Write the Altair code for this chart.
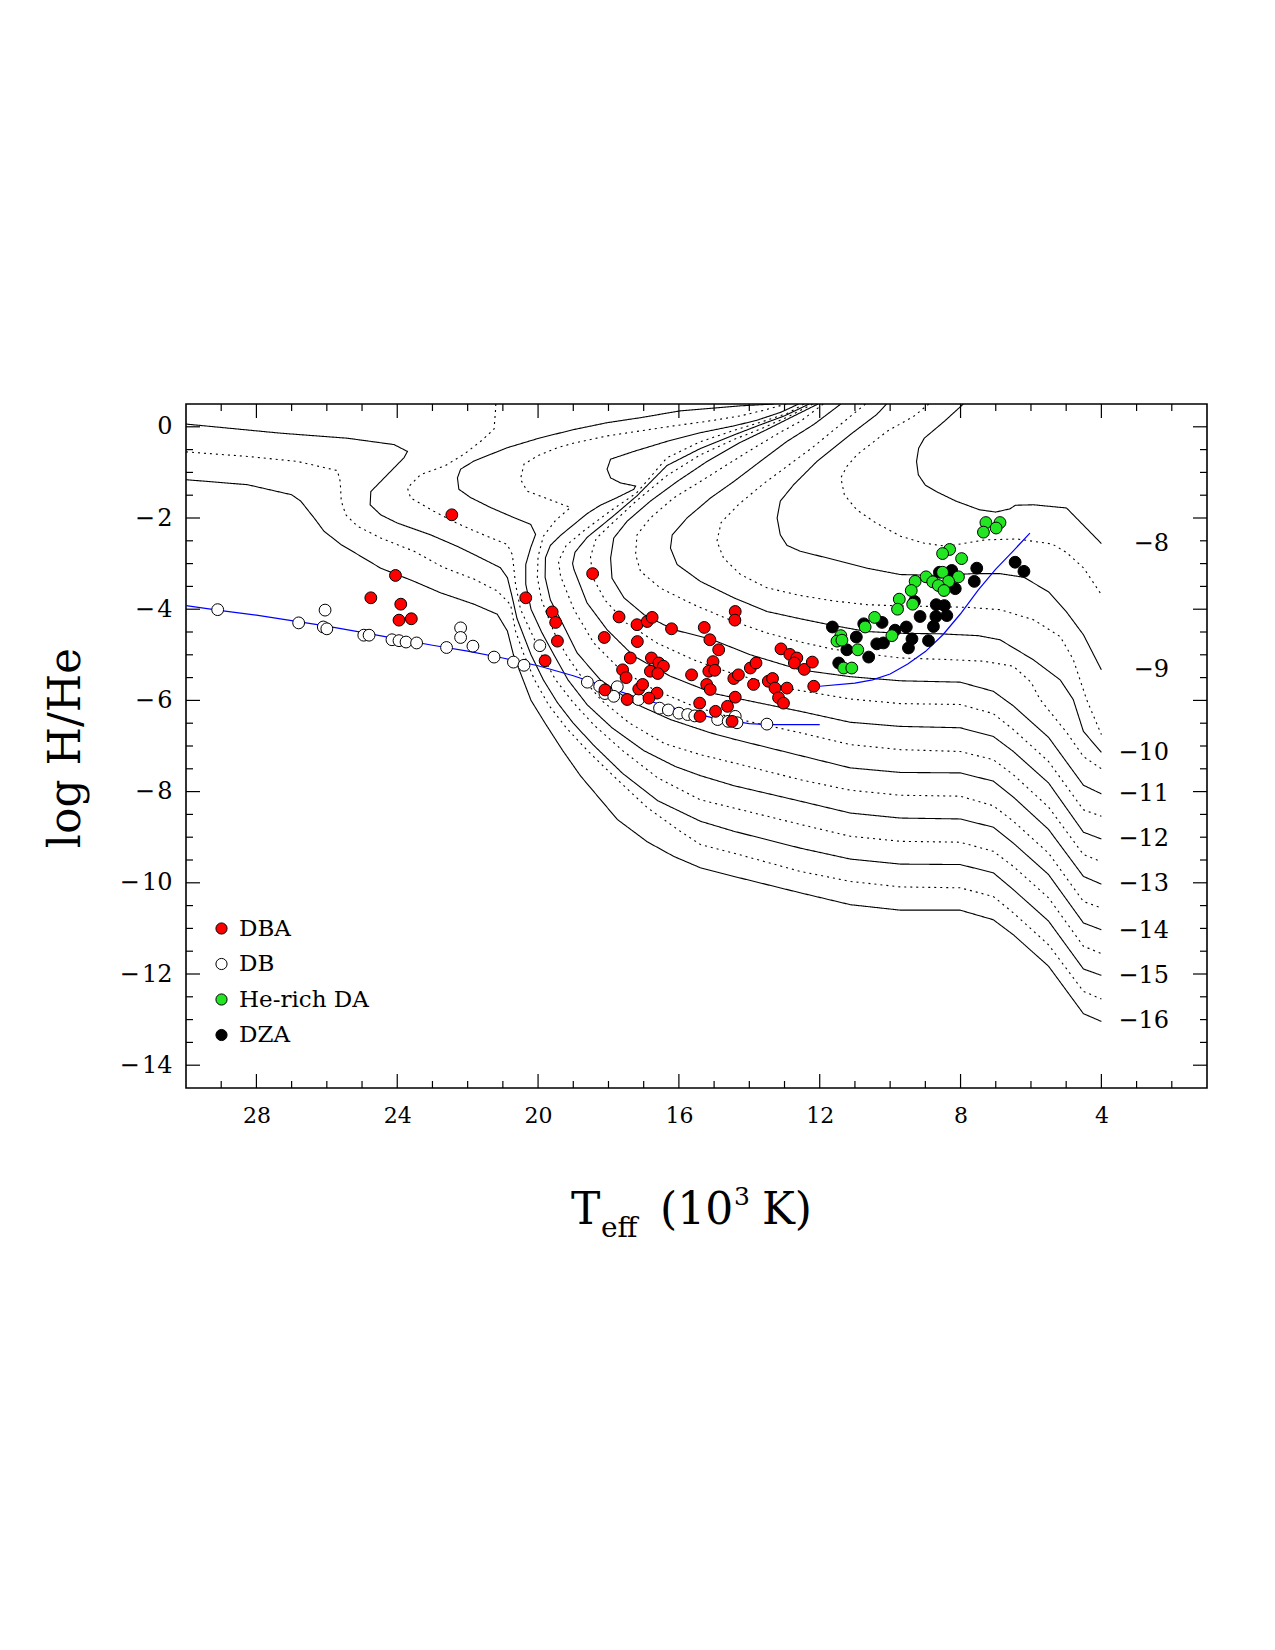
import altair as alt
import pandas as pd

FONT = "DejaVu Serif"
W, H = 1021, 684

# ---------------- axes ----------------
x_major = [28, 24, 20, 16, 12, 8, 4]
x_minor = [29, 27, 26, 25, 23, 22, 21, 19, 18, 17, 15, 14, 13, 11, 10, 9, 7, 6, 5, 3, 2]
y_major = [0, -2, -4, -6, -8, -10, -12, -14]
y_minor = [-0.5, -1, -1.5, -2.5, -3, -3.5, -4.5, -5, -5.5, -6.5, -7, -7.5,
           -8.5, -9, -9.5, -10.5, -11, -11.5, -12.5, -13, -13.5]

# ---------------- observed stars (Teff/1000, log H/He) ----------------
db = [(29.1, -4.01), (26.8, -4.30), (26.05, -4.02), (26.1, -4.39), (26.0, -4.43),
      (24.95, -4.57), (24.8, -4.57), (24.15, -4.67), (23.95, -4.69), (23.75, -4.72),
      (23.45, -4.74), (22.6, -4.84), (22.2, -4.41), (22.2, -4.62), (21.85, -4.81),
      (21.25, -5.05), (20.7, -5.16), (20.4, -5.23), (19.95, -4.80), (18.6, -5.60),
      (18.25, -5.69), (17.75, -5.70), (18.1, -5.85), (17.85, -5.91), (17.15, -5.98),
      (16.55, -6.17), (16.3, -6.21), (16.0, -6.28), (15.75, -6.31), (15.55, -6.34),
      (14.9, -6.42), (14.6, -6.46), (14.4, -6.35), (14.35, -6.49), (13.5, -6.52)]

dba = [(22.45, -1.93), (24.05, -3.26), (24.75, -3.75), (23.9, -3.89), (23.95, -4.24),
       (23.6, -4.21), (20.35, -3.75), (19.6, -4.06), (19.5, -4.29), (19.45, -4.70),
       (19.8, -5.13), (18.45, -3.22), (17.7, -4.17), (18.12, -4.62), (17.6, -5.33),
       (17.5, -5.50), (18.1, -5.77), (17.47, -5.98), (17.18, -4.71), (17.19, -4.34),
       (16.90, -4.27), (16.76, -4.18), (16.21, -4.43), (17.38, -5.07), (16.78, -5.07),
       (16.81, -5.36), (16.57, -5.18), (16.44, -5.25), (16.60, -5.41), (17.14, -5.75),
       (17.03, -5.65), (16.62, -5.84), (16.85, -5.95), (15.28, -4.40), (15.12, -4.67),
       (14.87, -4.89), (15.03, -5.15), (15.15, -5.36), (14.98, -5.34), (15.64, -5.44),
       (15.21, -5.65), (15.11, -5.76), (15.41, -6.06), (15.40, -6.35), (14.96, -6.24),
       (14.62, -6.13), (14.40, -5.93), (14.49, -6.46), (14.40, -4.05), (14.41, -4.24),
       (14.44, -5.52), (14.31, -5.44), (13.97, -5.29), (13.81, -5.18), (13.88, -5.65),
       (13.46, -5.58), (13.34, -5.52), (13.27, -5.73), (13.17, -5.94), (13.03, -6.06),
       (12.93, -5.73), (13.10, -4.87), (12.85, -4.99), (12.65, -5.07), (12.72, -5.18),
       (12.44, -5.32), (12.21, -5.16), (12.17, -5.69)]

dza = [(6.45, -2.97), (6.20, -3.17), (7.54, -3.10), (7.61, -3.39), (8.25, -3.15),
       (8.15, -3.55), (8.60, -3.19), (8.69, -3.90), (8.46, -3.92), (9.31, -3.83),
       (8.70, -4.16), (8.39, -4.14), (9.15, -4.16), (8.77, -4.38), (10.23, -4.29),
       (9.54, -4.39), (9.86, -4.46), (8.91, -4.69), (9.38, -4.65), (9.48, -4.85),
       (10.19, -4.74), (10.38, -4.76), (10.96, -4.61), (11.64, -4.39), (11.23, -4.89),
       (10.61, -5.05), (11.46, -5.18), (10.75, -4.32)]

he_da = [(7.28, -2.10), (6.88, -2.10), (7.35, -2.31), (6.99, -2.22), (8.31, -2.69),
         (8.51, -2.78), (7.97, -2.89), (8.51, -3.19), (8.06, -3.29), (8.34, -3.39),
         (8.98, -3.29), (8.79, -3.40), (9.29, -3.39), (8.63, -3.48), (8.47, -3.59),
         (9.40, -3.59), (9.74, -3.78), (9.79, -4.00), (9.36, -3.89), (10.44, -4.18),
         (10.71, -4.39), (9.95, -4.58), (11.40, -4.58), (11.51, -4.70), (11.37, -4.68),
         (10.92, -4.89), (11.32, -5.29), (11.09, -5.29)]

# ---------------- blue sequences ----------------
blue_db = [(30, -3.92), (29, -4.03), (28, -4.13), (27, -4.25), (26, -4.37), (25, -4.51),
           (24, -4.65), (23, -4.79), (22, -4.92), (21, -5.07), (20, -5.24), (19, -5.46),
           (18, -5.72), (17, -5.98), (16, -6.20), (15, -6.39), (14, -6.51), (13.5, -6.53),
           (12, -6.53)]
blue_da = [(12.0, -5.69), (11.0, -5.62), (10.5, -5.55), (10.0, -5.42), (9.5, -5.20),
           (9.0, -4.93), (8.5, -4.56), (8.0, -4.10), (7.5, -3.58), (7.0, -3.12),
           (6.5, -2.72), (6.03, -2.33)]

# ---------------- model curves (log M_H / M) ----------------
c_m8 = [(7.92, 0.5), (8.46, 0.12), (9.03, -0.25), (9.19, -0.47), (9.25, -0.76), (9.2, -1.05),
        (9.0, -1.28), (8.69, -1.42), (8.13, -1.63), (7.46, -1.82), (7.0, -1.87), (6.6, -1.80),
        (6.44, -1.72), (5.93, -1.71), (4.99, -1.78), (4.0, -2.56)]
c_m85 = [(8.9, 0.5), (9.33, 0.23), (10.09, -0.10), (10.5, -0.35), (10.94, -0.61), (11.23, -0.87),
         (11.4, -1.12), (11.3, -1.49), (10.95, -1.82), (10.4, -2.11), (9.7, -2.40), (9.05, -2.55),
         (8.4, -2.62), (7.3, -2.48), (6.4, -2.46), (5.4, -2.57), (5.0, -2.75), (4.5, -3.10),
         (4.0, -3.68)]
c_m9 = [(10.1, 0.5), (10.38, 0.27), (11.13, -0.17), (12.08, -0.76), (12.74, -1.27), (13.12, -1.63),
        (13.21, -2.0), (13.12, -2.37), (12.93, -2.6), (12.55, -2.73), (11.61, -2.91), (10.66, -3.10),
        (9.71, -3.24), (8.58, -3.26), (7.63, -3.22), (6.88, -3.22), (6.2, -3.3), (5.5, -3.62),
        (5.0, -4.05), (4.51, -4.56), (4.0, -5.33)]
c_m95 = [(10.7, 0.5), (11.3, 0.12), (12.2, -0.45), (12.9, -0.85), (13.6, -1.25), (14.3, -1.7),
         (14.8, -2.1), (14.92, -2.51), (14.73, -2.88), (14.25, -3.24), (13.5, -3.53), (12.55, -3.70),
         (11.6, -3.82), (10.66, -3.90), (9.7, -3.93), (8.77, -3.94), (7.8, -3.96), (6.88, -4.01),
         (5.93, -4.23), (5.17, -4.60), (4.8, -5.1), (4.42, -5.98), (4.0, -6.75)]
c_m10 = [(11.4, 0.5), (12.17, 0.05), (12.93, -0.32), (13.69, -0.76), (14.44, -1.20), (15.10, -1.56),
         (15.77, -2.0), (16.19, -2.37), (16.24, -2.66), (16.05, -3.02), (15.39, -3.39), (14.44, -3.75),
         (13.5, -4.05), (12.55, -4.21), (11.6, -4.36), (10.66, -4.49), (9.6, -4.53), (8.58, -4.54),
         (7.5, -4.58), (6.88, -4.67), (5.93, -5.11), (5.17, -5.55), (4.80, -5.98), (4.51, -6.68),
         (4.0, -7.14)]
c_m105 = [(11.9, 0.5), (12.55, 0.12), (13.12, -0.12), (13.88, -0.47), (14.63, -0.83), (15.39, -1.20),
          (16.15, -1.56), (16.81, -2.0), (17.19, -2.37), (17.23, -2.80), (17.09, -3.17), (16.52, -3.54),
          (15.58, -3.90), (14.44, -4.27), (13.5, -4.52), (12.55, -4.72), (11.6, -4.88), (10.66, -4.98),
          (9.71, -5.07), (8.5, -5.10), (7.35, -5.14), (6.5, -5.25), (6.0, -5.6), (5.74, -5.98),
          (4.98, -6.71), (4.51, -7.23), (4.0, -7.50)]
c_m11 = [(12.05, 0.5), (12.83, 0.2), (13.5, -0.06), (14.25, -0.34), (15.2, -0.76), (16.05, -1.20),
         (16.81, -1.63), (17.47, -2.07), (17.85, -2.44), (17.94, -2.88), (17.90, -3.32), (17.56, -3.75),
         (16.99, -4.12), (16.15, -4.45), (15.11, -4.65), (13.97, -5.0), (12.55, -5.33), (11.13, -5.48),
         (9.71, -5.57), (8.01, -5.60), (7.07, -5.80), (6.5, -6.12), (5.5, -6.81), (4.51, -7.86),
         (4.0, -8.05)]
c_m115 = [(12.2, 0.5), (12.9, 0.22), (13.6, -0.02), (14.44, -0.28), (15.4, -0.62), (16.34, -1.07),
          (17.2, -1.62), (17.9, -2.12), (18.35, -2.45), (18.51, -2.85), (18.45, -3.3), (18.1, -3.8),
          (17.5, -4.3), (16.6, -4.75), (15.58, -5.11), (14.44, -5.42), (12.74, -5.76), (11.13, -5.97),
          (9.71, -6.07), (8.01, -6.09), (7.07, -6.29), (6.5, -6.64), (5.5, -7.34), (4.51, -8.40),
          (4.0, -8.54)]
c_m12 = [(12.3, 0.5), (13.0, 0.24), (13.7, 0.04), (14.44, -0.18), (15.4, -0.48), (16.34, -0.85),
         (17.2, -1.52), (17.9, -1.98), (18.6, -2.42), (18.95, -2.75), (19.02, -3.0), (18.98, -3.13),
         (18.61, -3.86), (18.04, -4.45), (17.28, -5.03), (16.24, -5.47), (15.0, -5.85), (13.69, -6.06),
         (12.55, -6.24), (11.13, -6.48), (9.71, -6.57), (8.01, -6.60), (7.07, -6.79), (6.5, -7.12),
         (5.5, -7.81), (4.51, -8.89), (4.0, -9.04)]
c_m125 = [(12.45, 0.5), (12.9, 0.3), (13.6, 0.12), (14.44, -0.08), (15.4, -0.33), (16.34, -0.68),
          (17.2, -1.45), (17.9, -1.82), (18.7, -2.28), (19.2, -2.6), (19.42, -2.95), (19.36, -3.28),
          (18.98, -4.01), (18.42, -4.74), (17.66, -5.33), (16.71, -5.76), (15.58, -6.13), (14.44, -6.39),
          (12.55, -6.71), (11.13, -6.97), (9.71, -7.08), (8.01, -7.12), (7.07, -7.30), (6.5, -7.63),
          (5.5, -8.34), (4.51, -9.38), (4.0, -9.54)]
c_m13 = [(12.6, 0.5), (13.1, 0.32), (13.8, 0.14), (14.44, 0.02), (15.39, -0.13), (16.34, -0.32),
         (17.28, -0.54), (17.94, -0.71), (18.04, -0.93), (17.94, -1.12), (17.66, -1.23), (17.23, -1.30),
         (17.28, -1.37), (17.75, -1.55), (18.23, -1.72), (18.60, -1.90), (18.98, -2.14), (19.36, -2.38),
         (19.65, -2.60), (19.79, -2.87), (19.8, -3.3), (19.65, -3.8), (19.36, -4.23), (18.89, -4.96),
         (18.23, -5.55), (17.28, -6.06), (16.24, -6.42), (15.11, -6.71), (14.44, -6.85), (12.55, -7.21),
         (11.13, -7.48), (9.71, -7.58), (8.01, -7.59), (7.07, -7.77), (6.5, -8.12), (5.5, -8.83),
         (4.51, -9.86), (4.0, -10.03)]
c_m135 = [(12.95, 0.5), (13.6, 0.36), (14.25, 0.24), (15.2, 0.12), (16.15, 0.02), (17.1, -0.09),
          (18.04, -0.20), (19.0, -0.36), (19.46, -0.46), (20.02, -0.64), (20.40, -0.82), (20.5, -1.15),
          (20.31, -1.41), (19.83, -1.55), (19.08, -1.77), (19.5, -2.05), (19.85, -2.4), (20.0, -2.85),
          (20.02, -3.3), (19.9, -3.8), (19.55, -4.5), (19.2, -5.0), (18.75, -5.5), (18.2, -6.0),
          (17.4, -6.5), (16.4, -6.95), (15.39, -7.19), (14.44, -7.37), (12.55, -7.74), (11.13, -7.97),
          (9.71, -8.08), (8.01, -8.10), (7.07, -8.31), (6.5, -8.65), (5.5, -9.35), (4.51, -10.41),
          (4.0, -10.55)]
c_m14 = [(13.3, 0.5), (14.25, 0.46), (15.96, 0.35), (17.09, 0.20), (18.04, 0.09), (18.98, -0.06),
         (19.93, -0.24), (20.88, -0.46), (21.82, -0.75), (22.20, -0.93), (22.29, -1.12), (22.25, -1.37),
         (21.92, -1.55), (21.35, -1.77), (20.69, -1.99), (20.21, -2.14), (20.07, -2.36), (20.21, -2.65),
         (20.35, -3.02), (20.35, -3.45), (20.2, -4.0), (19.9, -4.5), (19.55, -5.0), (19.15, -5.55),
         (18.6, -6.1), (17.9, -6.6), (17.0, -7.1), (16.1, -7.45), (15.39, -7.65), (14.44, -7.87),
         (12.55, -8.21), (11.13, -8.47), (9.71, -8.58), (8.01, -8.60), (7.07, -8.78), (6.5, -9.13),
         (5.5, -9.82), (4.51, -10.88), (4.0, -11.03)]
c_m145 = [(21.2, 0.5), (21.21, 0.35), (21.25, -0.05), (21.6, -0.3), (22.1, -0.6), (22.63, -0.85),
          (23.34, -1.05), (23.71, -1.34), (23.62, -1.56), (22.96, -1.85), (22.4, -2.08), (21.82, -2.28),
          (20.88, -2.58), (20.73, -2.80), (20.64, -3.45), (20.5, -4.0), (20.2, -4.5), (19.9, -5.0),
          (19.5, -5.55), (19.0, -6.05), (18.4, -6.55), (17.6, -7.1), (16.6, -7.7), (15.39, -8.18),
          (14.44, -8.36), (12.55, -8.72), (11.13, -8.98), (9.71, -9.09), (8.01, -9.11), (7.07, -9.31),
          (6.5, -9.64), (5.5, -10.33), (4.51, -11.39), (4.0, -11.55)]
c_m15 = [(30, 0.06), (27.31, -0.14), (25.42, -0.25), (24.09, -0.39), (23.71, -0.54), (23.81, -0.68),
         (24.47, -1.20), (24.75, -1.42), (24.77, -1.71), (24.47, -1.93), (24.0, -2.11), (23.05, -2.37),
         (22.3, -2.62), (21.82, -2.80), (21.07, -3.09), (20.87, -3.31), (20.73, -3.75), (20.6, -4.2),
         (20.45, -4.5), (20.2, -5.0), (19.85, -5.55), (19.45, -6.05), (19.0, -6.5), (18.4, -7.0),
         (17.6, -7.6), (16.6, -8.2), (15.39, -8.65), (14.44, -8.87), (12.55, -9.24), (11.13, -9.48),
         (9.71, -9.59), (8.01, -9.60), (7.07, -9.78), (6.5, -10.15), (5.5, -10.84), (4.51, -11.89),
         (4.0, -12.03)]
c_m155 = [(30, -0.55), (28.25, -0.65), (26.83, -0.76), (25.70, -0.96), (25.62, -1.20), (25.59, -1.63),
          (25.46, -1.93), (25.13, -2.18), (24.47, -2.44), (23.52, -2.73), (22.7, -3.08), (21.82, -3.34),
          (21.16, -3.60), (20.78, -3.9), (20.64, -4.48), (20.4, -5.0), (20.1, -5.55), (19.7, -6.1),
          (19.2, -6.6), (18.6, -7.1), (17.8, -7.7), (16.9, -8.35), (16.0, -8.85), (15.39, -9.16),
          (14.44, -9.35), (12.55, -9.75), (11.13, -9.97), (9.71, -10.09), (8.01, -10.11), (7.07, -10.30),
          (6.5, -10.66), (5.5, -11.36), (4.51, -12.38), (4.0, -12.55)]
c_m16 = [(30, -1.16), (28.25, -1.27), (27.0, -1.49), (26.74, -1.63), (26.36, -2.0), (26.08, -2.29),
         (25.6, -2.58), (24.47, -3.10), (23.52, -3.39), (22.77, -3.64), (21.82, -3.89), (21.16, -4.11),
         (20.87, -4.48), (20.7, -5.0), (20.45, -5.5), (20.2, -6.0), (19.8, -6.5), (19.3, -7.1),
         (18.79, -7.66), (17.75, -8.61), (16.9, -9.1), (16.15, -9.42), (15.39, -9.67), (14.44, -9.86),
         (12.55, -10.22), (11.13, -10.48), (9.71, -10.60), (8.01, -10.60), (7.07, -10.81), (6.5, -11.14),
         (5.5, -11.83), (4.51, -12.87), (4.0, -13.04)]

q_labels = ["−8", "−9", "−10", "−11", "−12", "−13", "−14", "−15", "−16"]
q_label_y = [-2.58, -5.33, -7.15, -8.05, -9.04, -10.03, -11.05, -12.04, -13.03]

types = ["DBA", "DB", "He-rich DA", "DZA"]
type_colors = ["#ff0000", "#ffffff", "#22e622", "#000000"]

# ---------------- tables ----------------
curves = [("m8", "solid", c_m8), ("m85", "dotted", c_m85), ("m9", "solid", c_m9),
          ("m95", "dotted", c_m95), ("m10", "solid", c_m10), ("m105", "dotted", c_m105),
          ("m11", "solid", c_m11), ("m115", "dotted", c_m115), ("m12", "solid", c_m12),
          ("m125", "dotted", c_m125), ("m13", "solid", c_m13), ("m135", "dotted", c_m135),
          ("m14", "solid", c_m14), ("m145", "dotted", c_m145), ("m15", "solid", c_m15),
          ("m155", "dotted", c_m155), ("m16", "solid", c_m16)]
rows = []
for name, style, pts in curves:
    for i, (t, y) in enumerate(pts):
        rows.append({"curve": name, "style": style, "i": i, "T": t, "Y": y})
lines_df = pd.DataFrame(rows)

brows = []
for name, pts in [("db", blue_db), ("da", blue_da)]:
    for i, (t, y) in enumerate(pts):
        brows.append({"curve": name, "i": i, "T": t, "Y": y})
blue_df = pd.DataFrame(brows)

prows = []
for typ, pts in [("DB", db), ("DBA", dba), ("DZA", dza), ("He-rich DA", he_da)]:
    for t, y in pts:
        prows.append({"type": typ, "T": t, "Y": y})
pts_df = pd.DataFrame(prows)

# ---------------- encodings ----------------
xs = alt.Scale(domain=[1, 30], reverse=True, nice=False, zero=False)
ys = alt.Scale(domain=[-14.5, 0.5], nice=False, zero=False)
x_axis = alt.Axis(values=x_major, format="d", ticks=False, domain=False, grid=False,
                  labelFont=FONT, labelFontSize=22, labelPadding=17, labelColor="black",
                  labelFlush=False, title=None)
y_axis = alt.Axis(values=y_major, ticks=False, domain=False, grid=False,
                  labelExpr="datum.value < 0 ? '\u2212\u200a' + format(-datum.value, 'd') : '0'",
                  labelFont=FONT, labelFontSize=24, labelPadding=14, labelColor="black",
                  labelFlush=False, title=None)
X = alt.X("T:Q", scale=xs, axis=x_axis)
Y = alt.Y("Y:Q", scale=ys, axis=y_axis)

contours = alt.Chart(lines_df).mark_line(clip=True, color="black", strokeWidth=1.1).encode(
    x=X, y=Y, detail="curve:N", order="i:Q",
    strokeDash=alt.StrokeDash("style:N", scale=alt.Scale(domain=["solid", "dotted"],
                                                         range=[[1, 0], [2, 4]]), legend=None))

blue = alt.Chart(blue_df).mark_line(clip=True, color="#0000ff", strokeWidth=1.2).encode(
    x=X, y=Y, detail="curve:N", order="i:Q")

points = alt.Chart(pts_df).mark_point(filled=True, shape="circle", size=140, stroke="black",
                                      strokeWidth=1, opacity=1).encode(
    x=X, y=Y,
    fill=alt.Fill("type:N", scale=alt.Scale(domain=types, range=type_colors),
                  legend=alt.Legend(title=None, orient="none", legendX=24, legendY=513,
                                    labelFont=FONT, labelFontSize=23, labelColor="black",
                                    symbolType="circle", symbolSize=125, symbolStrokeColor="black",
                                    symbolStrokeWidth=1, symbolOpacity=1, rowPadding=11.5,
                                    labelOffset=6, padding=0)))

tick_layers = []
xmaj = pd.DataFrame({"T": x_major})
xmin = pd.DataFrame({"T": x_minor})
ymaj = pd.DataFrame({"Y": y_major})
ymin = pd.DataFrame({"Y": y_minor})
for df, ln in [(xmaj, 14), (xmin, 7)]:
    base = alt.Chart(df).mark_rule(color="black", strokeWidth=1.2)
    tick_layers.append(base.encode(x=X, y=alt.value(H), y2=alt.value(H - ln)))
    tick_layers.append(base.encode(x=X, y=alt.value(0), y2=alt.value(ln)))
for df, ln in [(ymaj, 14), (ymin, 7)]:
    base = alt.Chart(df).mark_rule(color="black", strokeWidth=1.2)
    tick_layers.append(base.encode(y=Y, x=alt.value(0), x2=alt.value(ln)))
    tick_layers.append(base.encode(y=Y, x=alt.value(W), x2=alt.value(W - ln)))

qlab = alt.Chart(pd.DataFrame({"Y": q_label_y, "label": q_labels})).mark_text(
    align="right", baseline="middle", font=FONT, fontSize=24, color="black").encode(
    x=alt.value(983), y=Y, text="label:N")

title_layers = []
for txt, px, py, fs in [("T", 385, 820, 44), ("eff", 415, 833, 28), ("(10", 474, 820, 44),
                        ("3", 548, 801, 25), ("K)", 576, 820, 44)]:
    title_layers.append(alt.Chart(pd.DataFrame({"label": [txt]})).mark_text(
        align="left", baseline="alphabetic", font=FONT, fontSize=fs, color="black").encode(
        x=alt.value(px), y=alt.value(py), text="label:N"))
title_layers.append(alt.Chart(pd.DataFrame({"label": ["log H/He"]})).mark_text(
    align="center", baseline="alphabetic", font=FONT, fontSize=44, angle=270, color="black").encode(
    x=alt.value(-106), y=alt.value(344), text="label:N"))

chart = alt.layer(contours, blue, points, *tick_layers, qlab, *title_layers).properties(
    width=W, height=H,
    autosize=alt.AutoSizeParams(type="none"),
    padding={"left": 186, "top": 404, "right": 68, "bottom": 562},
    background="white",
).configure_view(stroke="black", strokeWidth=1.6)

chart.save("out.html", embed_options={"renderer": "svg", "actions": False})
